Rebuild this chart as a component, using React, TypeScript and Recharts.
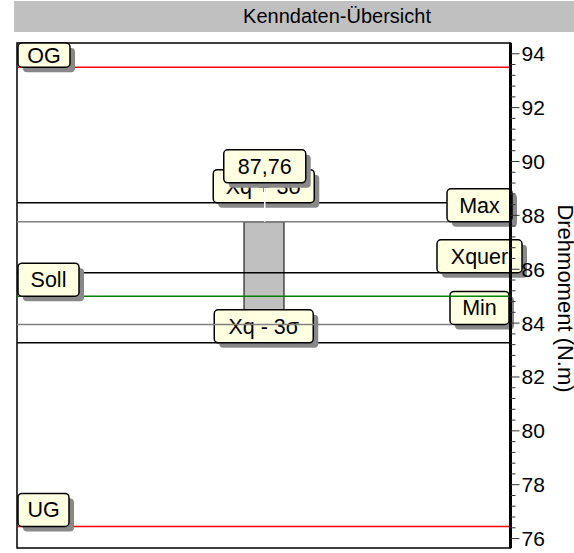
import React from "react";
import {
  Bar,
  ComposedChart,
  Label,
  ReferenceArea,
  ReferenceDot,
  ReferenceLine,
  XAxis,
  YAxis,
} from "recharts";

// Kenndaten
const categories = ["Drehmoment"];
const barMin = [83.95];
const barMax = [87.76];

// Grenz- und Kennlinien, Reihenfolge = Zeichenreihenfolge
const lineNames = ["UG", "OG", "Xq + 3σ", "Max", "Xq - 3σ", "Min", "Xquer", "Soll"];
const lineValues = [76.45, 93.5, 88.47, 87.76, 83.27, 83.95, 85.87, 85];

const yDomain = [75.65, 94.4];
const majorTicks = [76, 78, 80, 82, 84, 86, 88, 90, 92, 94];
// Teilstriche alle 0,4
const allTicks = Array.from({ length: 46 }, (_, i) => Math.round((76 + i * 0.4) * 10) / 10);

const FONT = '"Liberation Sans", Arial, sans-serif';
const FS_TITLE = 20;
const FS_TAG = 21.5;
const FS_TICK = 21;
const FS_AXIS = 22;
const PLOT_TOP = 43;
const BOX_H = 33;

const lineStyle: Record<string, { stroke: string; align: "left" | "right" | "center"; w: number }> = {
  UG: { stroke: "#ff0000", align: "left", w: 51 },
  OG: { stroke: "#ff0000", align: "left", w: 52 },
  "Xq + 3σ": { stroke: "#000", align: "center", w: 101 },
  Max: { stroke: "#808080", align: "right", w: 65 },
  "Xq - 3σ": { stroke: "#000", align: "center", w: 99 },
  Min: { stroke: "#808080", align: "right", w: 59 },
  Xquer: { stroke: "#000", align: "right", w: 85 },
  Soll: { stroke: "#008000", align: "left", w: 61 },
};

const data = categories.map((name, i) => ({ name, range: [barMin[i], barMax[i]] }));

function TagBox({ x, top, bottom, w, text }: { x: number; top: number; bottom: number; w: number; text: string }) {
  const h = bottom - top;
  return (
    <g>
      <rect x={x + 5} y={top + 5} width={w} height={h} rx={4} fill="#888" />
      <rect x={x} y={top} width={w} height={h} rx={4} fill="#ffffe1" stroke="#000" strokeWidth={1.5} />
      <text x={x + w / 2} y={top + h / 2 + 7.5} textAnchor="middle" fontFamily={FONT} fontSize={FS_TAG} fill="#000">
        {text}
      </text>
    </g>
  );
}

function limitShape(name: string) {
  const st = lineStyle[name];
  return (p: any) => {
    const lx = Math.min(p.x1, p.x2);
    const rx = Math.max(p.x1, p.x2);
    const y = p.y1;
    let bx = lx + 1;
    if (st.align === "right") bx = rx - 31 - st.w / 2;
    if (st.align === "center") bx = (lx + rx) / 2 - st.w / 2;
    const top = Math.max(PLOT_TOP, y - BOX_H);
    return (
      <g>
        <line x1={lx} y1={y} x2={rx} y2={y} stroke={st.stroke} strokeWidth={1.5} />
        <TagBox x={bx} top={top} bottom={y} w={st.w} text={name} />
      </g>
    );
  };
}

function ValueTag(p: any) {
  const { cx, cy } = p;
  const w = 82;
  const txt = barMax[0].toFixed(2).replace(".", ",");
  return (
    <g>
      <line x1={cx + 1} y1={cy} x2={cx + 1} y2={cy - 34} stroke="#fff" strokeWidth={1.5} />
      <TagBox x={cx + 1 - w / 2} top={cy - 72} bottom={cy - 39} w={w} text={txt} />
    </g>
  );
}

function AxisTick(p: any) {
  const { x, y, payload } = p;
  const v = payload.value;
  const major = majorTicks.includes(v);
  return (
    <g>
      <line x1={x} x2={x + (major ? 9 : 5)} y1={y} y2={y} stroke="#333" />
      {major && (
        <text x={x + 11} y={y + 7.5} fontFamily={FONT} fontSize={FS_TICK} fill="#000">
          {v}
        </text>
      )}
    </g>
  );
}

function AxisTitle(p: any) {
  const vb = p.viewBox;
  const x = vb.x + vb.width - 9;
  const y = vb.y + vb.height / 2 + 3;
  return (
    <text
      x={x}
      y={y}
      transform={`rotate(90 ${x} ${y})`}
      textAnchor="middle"
      dominantBaseline="central"
      fontFamily={FONT}
      fontSize={FS_AXIS}
      fill="#000"
    >
      Drehmoment (N.m)
    </text>
  );
}

export default function App() {
  return (
    <div style={{ position: "relative", width: 574, height: 553, background: "#fff" }}>
      <style>{"body{margin:0}"}</style>
      <div
        style={{
          position: "absolute",
          left: 14,
          top: 1,
          width: 560,
          height: 31,
          background: "#c0c0c0",
        }}
      />
      <div
        style={{
          position: "absolute",
          left: 0,
          width: 674,
          top: 5,
          textAlign: "center",
          fontFamily: FONT,
          fontSize: FS_TITLE,
          color: "#000",
        }}
      >
        Kenndaten-Übersicht
      </div>
      <div style={{ position: "absolute", left: 0, top: 0 }}>
        <ComposedChart
          width={574}
          height={553}
          data={data}
          margin={{ top: PLOT_TOP, right: 0, bottom: 5, left: 17 }}
        >
          <XAxis dataKey="name" hide />
          <YAxis
            orientation="right"
            type="number"
            domain={yDomain}
            allowDataOverflow
            ticks={allTicks}
            interval={0}
            width={63.5}
            axisLine={{ stroke: "#000", strokeWidth: 3 }}
            tickLine={false}
            tickSize={0}
            tickMargin={0}
            tick={<AxisTick />}
          >
            <Label content={<AxisTitle />} />
          </YAxis>
          <ReferenceArea y1={yDomain[0]} y2={yDomain[1]} fill="none" stroke="#000" strokeWidth={1.5} fillOpacity={0} />
          <Bar dataKey="range" fill="#c0c0c0" stroke="#000" barSize={40} isAnimationActive={false} />
          {lineNames.map((n, i) => (
            <ReferenceLine key={n} y={lineValues[i]} shape={limitShape(n)} />
          ))}
          <ReferenceDot x={categories[0]} y={barMax[0]} shape={ValueTag} />
        </ComposedChart>
      </div>
    </div>
  );
}
